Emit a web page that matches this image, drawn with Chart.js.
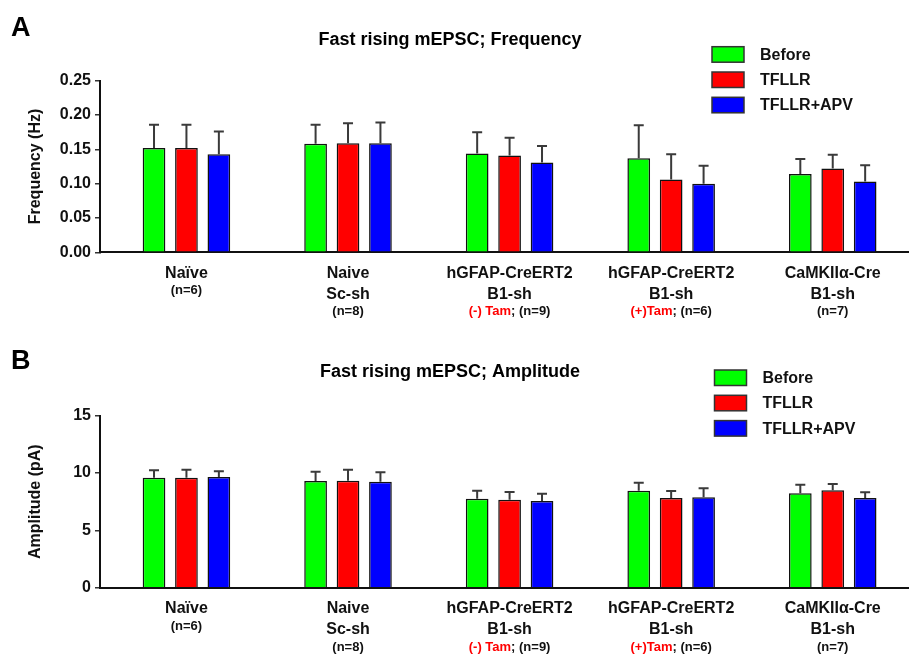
<!DOCTYPE html>
<html>
<head>
<meta charset="utf-8">
<script src="https://cdn.jsdelivr.net/npm/chart.js@4"></script>
<style>
  html, body { margin: 0; padding: 0; background: #fff; overflow: hidden; }
  #wrap { position: relative; width: 909px; height: 654px; }
  canvas { position: absolute; left: 0; }
  #chartA { top: 0; }
  #chartB { top: 327px; }
</style>
</head>
<body>
<div id="wrap">
  <canvas id="chartA" width="909" height="327"></canvas>
  <canvas id="chartB" width="909" height="327"></canvas>
</div>
<script>
// ---- data ----
const GROUPS = [["Naïve"], ["Naive", "Sc-sh"], ["hGFAP-CreERT2", "B1-sh"], ["hGFAP-CreERT2", "B1-sh"], ["CaMKIIα-Cre", "B1-sh"]];
const TAM = ["", "", "(-) Tam", "(+)Tam", ""];
const N_LABELS = ["(n=6)", "(n=8)", "(n=9)", "(n=6)", "(n=7)"];
const SERIES = ["Before", "TFLLR", "TFLLR+APV"];
const COLORS = ["#00ff00", "#ff0000", "#0000ff"];

// A: frequency (Hz), mean + SEM
const FREQ_BEFORE = [0.152, 0.158, 0.144, 0.137, 0.114];
const FREQ_TFLLR  = [0.152, 0.159, 0.141, 0.106, 0.122];
const FREQ_APV    = [0.143, 0.159, 0.131, 0.100, 0.103];
const FREQ_SEM_BEFORE = [0.034, 0.028, 0.031, 0.048, 0.022];
const FREQ_SEM_TFLLR  = [0.034, 0.029, 0.026, 0.037, 0.020];
const FREQ_SEM_APV    = [0.033, 0.030, 0.024, 0.026, 0.024];
const FREQ_TICKS = ["0.00", "0.05", "0.10", "0.15", "0.20", "0.25"];

// B: amplitude (pA), mean + SEM
const AMP_BEFORE = [9.59, 9.30, 7.76, 8.46, 8.23];
const AMP_TFLLR  = [9.59, 9.33, 7.67, 7.82, 8.49];
const AMP_APV    = [9.65, 9.24, 7.56, 7.88, 7.82];
const AMP_SEM_BEFORE = [0.65, 0.82, 0.70, 0.70, 0.75];
const AMP_SEM_TFLLR  = [0.70, 0.96, 0.68, 0.61, 0.55];
const AMP_SEM_APV    = [0.50, 0.82, 0.64, 0.79, 0.50];
const AMP_TICKS = ["0", "5", "10", "15"];

const FONT = '"Liberation Sans", Arial, Helvetica, sans-serif';
const INK = "#111";

// upper-only error bars with caps
const errorBars = {
  id: "errorBars",
  afterDatasetsDraw(chart) {
    const { ctx } = chart, y = chart.scales.y;
    chart.data.datasets.forEach((ds, di) => {
      chart.getDatasetMeta(di).data.forEach((bar, i) => {
        const top = y.getPixelForValue(ds.data[i].y + ds.sem[i]);
        ctx.save();
        ctx.strokeStyle = "#3a3a3a"; ctx.lineWidth = 2;
        ctx.beginPath();
        ctx.moveTo(bar.x, bar.y); ctx.lineTo(bar.x, top);
        ctx.moveTo(bar.x - 5, top); ctx.lineTo(bar.x + 5, top);
        ctx.stroke();
        ctx.restore();
      });
    });
  }
};

// titles, panel letter, legend and two-colour category labels
const decor = {
  id: "decor",
  afterDraw(chart, args, o) {
    const { ctx, chartArea } = chart, xs = chart.scales.x;
    ctx.save();
    ctx.fillStyle = "#000";
    ctx.textBaseline = "middle";
    ctx.font = `bold 27px ${FONT}`; ctx.textAlign = "left";
    ctx.fillText(o.letter, 11, o.letterY);
    ctx.font = `bold 18px ${FONT}`; ctx.textAlign = "center";
    ctx.fillText(o.title, 450, o.titleY);

    // legend
    chart.data.datasets.forEach((ds, i) => {
      const y = o.legY + i * o.legGap;
      ctx.fillStyle = ds.backgroundColor;
      ctx.fillRect(o.legX, y, 32, 15.5);
      ctx.strokeStyle = "#333"; ctx.lineWidth = 1.5;
      ctx.strokeRect(o.legX, y, 32, 15.5);
      ctx.fillStyle = INK; ctx.font = `bold 16px ${FONT}`; ctx.textAlign = "left";
      ctx.fillText(ds.label, o.legX + 48, y + 8.5);
    });

    // category labels
    const b = chartArea.bottom;
    GROUPS.forEach((lines, i) => {
      const cx = xs.getPixelForValue(i);
      ctx.fillStyle = INK; ctx.textAlign = "center";
      ctx.font = `bold 16px ${FONT}`;
      lines.forEach((t, k) => ctx.fillText(t, cx, b + 21 + k * 21));
      const ny = b + 21 + (lines.length - 1) * 21 + 17.5;
      ctx.font = `bold 13px ${FONT}`;
      if (TAM[i]) {
        const rest = "; " + N_LABELS[i];
        const w1 = ctx.measureText(TAM[i]).width, w2 = ctx.measureText(rest).width;
        const sx = cx - (w1 + w2) / 2;
        ctx.textAlign = "left";
        ctx.fillStyle = "#ff0000"; ctx.fillText(TAM[i], sx, ny);
        ctx.fillStyle = INK; ctx.fillText(rest, sx + w1, ny);
      } else {
        ctx.fillText(N_LABELS[i], cx, ny);
      }
    });
    ctx.restore();
  }
};

function makeChart(id, cfg) {
  const datasets = cfg.values.map((vals, s) => ({
    label: SERIES[s],
    data: vals.map((v, i) => ({ x: i, y: v })),
    sem: cfg.sems[s],
    backgroundColor: COLORS[s],
    borderColor: "#111",
    borderWidth: 1.5,
    categoryPercentage: 0.602,
    barPercentage: 0.7
  }));
  return new Chart(document.getElementById(id), {
    type: "bar",
    data: { datasets },
    options: {
      responsive: false,
      animation: false,
      layout: { padding: { left: 20, top: cfg.top, right: 0, bottom: 0 } },
      plugins: {
        legend: { display: false },
        tooltip: { enabled: false },
        decor: cfg.decor
      },
      scales: {
        x: {
          type: "linear", min: -0.535, max: 4.472,
          bounds: "data", offset: false,
          grid: { display: false },
          border: { display: true, color: INK, width: 2 },
          ticks: { display: false },
          // one tick per group so the bar ruler spaces groups one unit apart
          afterBuildTicks: (s) => { s.ticks = GROUPS.map((g, i) => ({ value: i })); },
          afterFit: (s) => { s.height = 327 - cfg.bottom; }
        },
        y: {
          min: 0, max: cfg.max,
          grid: { display: true, drawOnChartArea: false, drawTicks: true, tickLength: 5, color: "#333", lineWidth: 1.5 },
          border: { display: true, color: INK, width: 2 },
          ticks: {
            stepSize: cfg.step, padding: 4, color: INK,
            font: { family: FONT, size: 16, weight: "bold" },
            callback: (v, i) => cfg.ticks[i]
          },
          title: {
            display: true, text: cfg.yTitle, color: INK, padding: { top: 6, bottom: 0 },
            font: { family: FONT, size: 16, weight: "bold" }
          },
          afterFit: (s) => { s.width = 80; }
        }
      }
    },
    plugins: [errorBars, decor]
  });
}

makeChart("chartA", {
  values: [FREQ_BEFORE, FREQ_TFLLR, FREQ_APV],
  sems: [FREQ_SEM_BEFORE, FREQ_SEM_TFLLR, FREQ_SEM_APV],
  ticks: FREQ_TICKS, max: 0.25, step: 0.05, yTitle: "Frequency (Hz)",
  top: 80.7, bottom: 252.3,
  decor: { letter: "A", letterY: 29, title: "Fast rising mEPSC; Frequency", titleY: 40,
           legX: 712, legY: 46.7, legGap: 25.3 }
});

makeChart("chartB", {
  values: [AMP_BEFORE, AMP_TFLLR, AMP_APV],
  sems: [AMP_SEM_BEFORE, AMP_SEM_TFLLR, AMP_SEM_APV],
  ticks: AMP_TICKS, max: 15, step: 5, yTitle: "Amplitude (pA)",
  top: 88.7, bottom: 260.7,
  decor: { letter: "B", letterY: 35, title: "Fast rising mEPSC; Amplitude", titleY: 45,
           legX: 714.5, legY: 43, legGap: 25.3 }
});
</script>
</body>
</html>
